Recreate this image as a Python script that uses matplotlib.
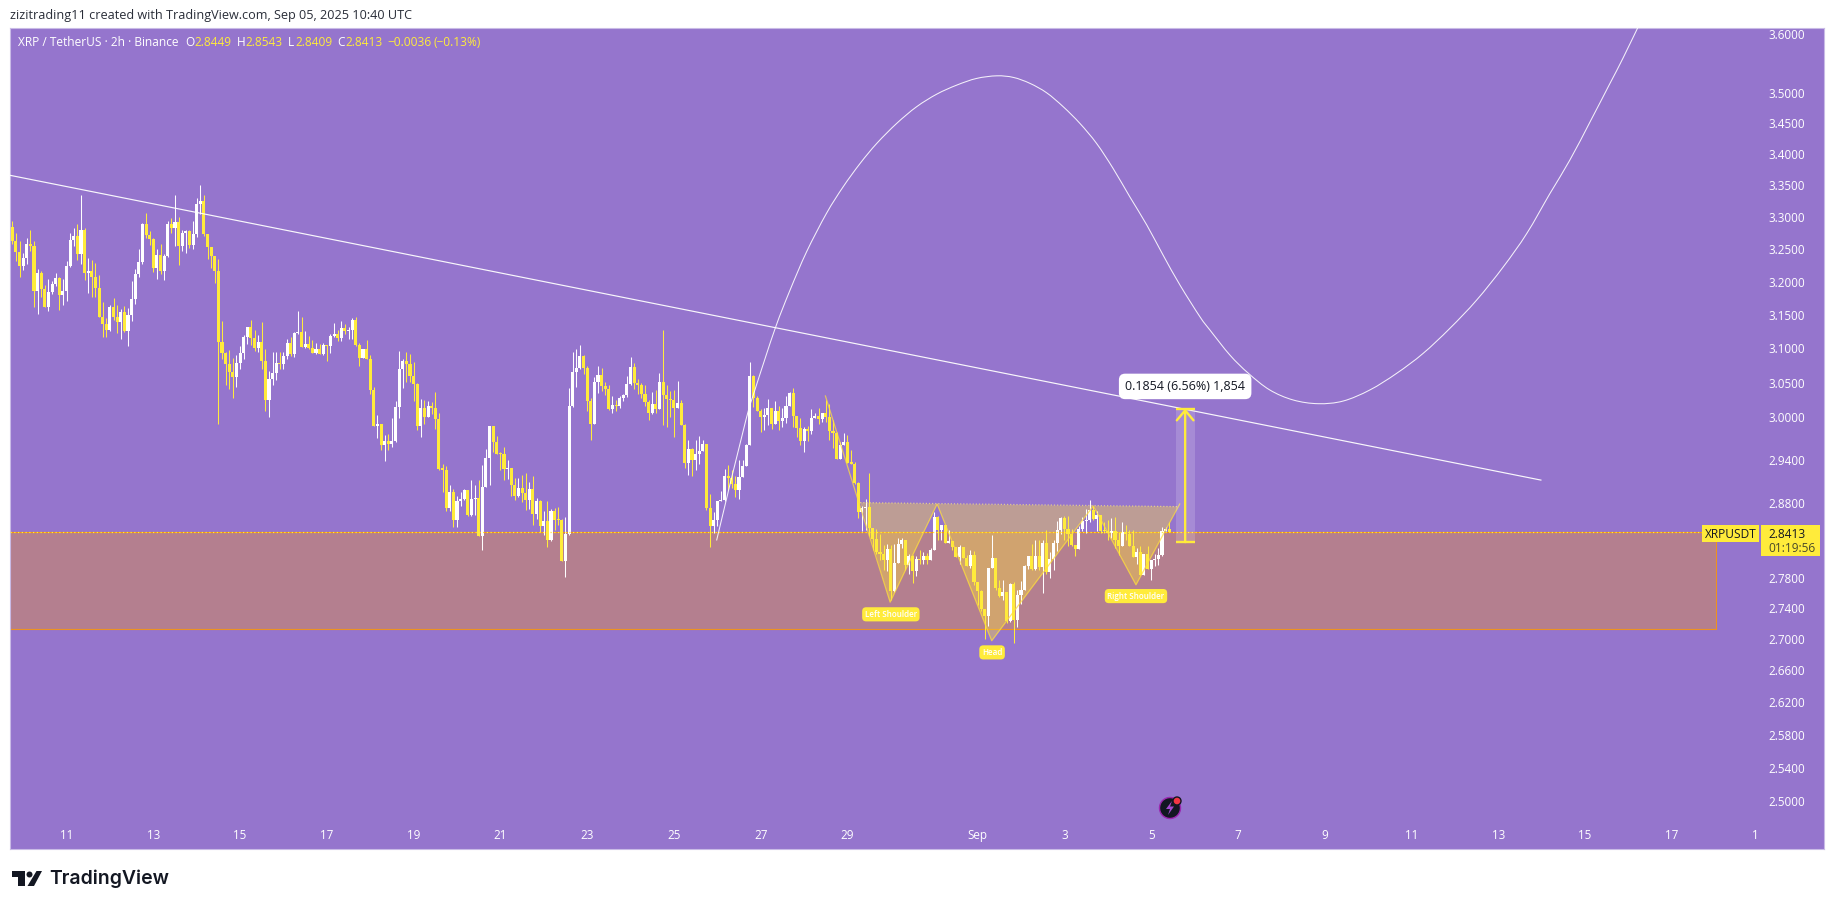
import matplotlib
matplotlib.use("Agg")
import matplotlib.pyplot as plt
import numpy as np
from matplotlib.patches import Rectangle, Polygon, Circle, PathPatch
from matplotlib.path import Path
from matplotlib.ticker import NullLocator, FixedLocator, FixedFormatter

first_open = 3.2842
closes = [3.2624,3.2454,3.2238,3.236,3.2578,3.2547,3.1855,3.2131,3.1885,3.1615,3.184,3.196,3.2054,3.1795,3.1855,3.2238,3.264,3.2702,3.2423,3.2795,
3.2131,3.2162,3.2069,3.1901,3.1465,3.136,3.127,3.1615,3.1465,3.139,3.154,3.1256,3.1495,3.1735,3.2115,3.2299,3.2889,3.2717,3.2655,3.2208,
3.2408,3.2162,3.2392,3.2889,3.2826,3.292,3.2547,3.2748,3.278,3.2562,3.2733,3.3202,3.325,3.2733,3.2531,3.2392,3.2162,3.1094,3.093,3.0772,
3.0656,3.0583,3.0787,3.093,3.1168,3.1316,3.115,3.1005,3.1094,3.0816,3.0245,3.0555,3.0641,3.0787,3.0772,3.0888,3.1079,3.0917,3.1226,3.124,
3.1019,3.1063,3.1005,3.093,3.099,3.0917,3.105,3.1035,3.1183,3.1212,3.115,3.13,3.1256,3.127,3.142,3.105,3.086,3.099,3.0845,3.0395,
2.9878,2.9907,2.961,2.9666,2.9624,2.9666,3.0148,3.0695,3.0816,3.0772,3.0598,3.0482,2.9878,3.0134,3.0006,3.0163,3.0134,2.9978,2.9274,2.9265,
2.8737,2.8956,2.8575,2.8832,2.8859,2.8984,2.8643,2.8859,2.8873,2.8359,2.9025,2.9428,2.9878,2.9652,2.9484,2.948,2.9274,2.9288,2.9053,2.89,
2.9011,2.8942,2.8845,2.8997,2.866,2.8832,2.8494,2.8562,2.8305,2.8697,2.8575,2.857,2.8022,2.8386,3.0163,3.0656,3.0714,3.0888,3.0714,3.0236,
2.9907,3.0511,3.0613,3.0453,3.041,3.012,3.0177,3.0163,3.0279,3.0323,3.0482,3.0729,3.0497,3.0468,3.0337,3.0221,3.0063,3.0192,3.012,3.0511,
3.0323,3.0265,3.025,3.0134,3.0207,2.9893,2.9358,2.9554,2.94,2.9484,2.9526,2.9624,2.8737,2.8485,2.8575,2.8832,2.884,2.9177,2.9149,2.9066,
2.8984,2.9163,2.9316,2.961,3.0598,3.0279,3.0091,3.0006,3.0034,3.0134,2.9907,3.0091,2.9949,2.9992,3.0163,3.0352,3.002,2.985,2.9666,2.9836,
2.9807,2.9992,3.002,2.9978,3.0063,3.0006,2.9807,2.978,2.9414,2.961,2.9652,2.9358,2.935,2.908,2.8683,2.8737,2.8751,2.8463,2.8319,2.8143,
2.8116,2.8035,2.8184,2.7627,2.7996,2.8251,2.8305,2.7974,2.8089,2.789,2.8049,2.8035,2.8089,2.8035,2.817,2.8616,2.844,2.8508,2.8265,2.8292,
2.8211,2.8075,2.8211,2.8062,2.796,2.8102,2.7745,2.7627,2.739,2.7298,2.793,2.8062,2.7666,2.7561,2.7614,2.7232,2.772,2.7245,2.7574,2.764,
2.796,2.8089,2.7916,2.8089,2.7947,2.8265,2.7877,2.8049,2.8265,2.844,2.8602,2.8454,2.8386,2.8238,2.8184,2.8454,2.8562,2.8575,2.871,2.8589,
2.8643,2.8427,2.842,2.84,2.8427,2.8305,2.8224,2.8413,2.8386,2.8224,2.8075,2.8143,2.7837,2.8116,2.7916,2.8035,2.8049,2.8102,2.8427,2.8449,2.8413]
highs = [3.2936,3.2743,3.2624,3.2433,3.2665,3.2795,3.2624,3.2192,3.2162,3.1957,3.2038,3.2008,3.2131,3.2069,3.2038,3.2315,3.2743,3.2821,3.2884,3.3344,
3.2826,3.2361,3.233,3.2284,3.21,3.169,3.145,3.1645,3.175,3.1645,3.1585,3.1635,3.16,3.2008,3.2192,3.25,3.2905,3.306,3.278,3.267,
3.25,3.2578,3.2423,3.2936,3.2983,3.3344,3.2998,3.2795,3.2795,3.2795,3.2936,3.3297,3.35,3.3344,3.2733,3.2531,3.2392,3.2345,3.1405,3.0946,
3.0975,3.086,3.0903,3.1035,3.12,3.1316,3.142,3.127,3.12,3.139,3.099,3.067,3.0946,3.0946,3.0946,3.0946,3.1138,3.1168,3.124,3.1555,
3.1465,3.1256,3.1183,3.1124,3.1079,3.1063,3.1079,3.105,3.1212,3.1375,3.127,3.1405,3.136,3.1316,3.145,3.1465,3.1079,3.099,3.1124,3.0903,
3.044,3.0035,2.9907,2.975,2.9764,2.9992,3.0235,3.096,3.0845,3.0946,3.0917,3.0801,3.0497,3.0265,3.025,3.0235,3.022,3.0366,3.0063,2.9344,
2.9316,2.9053,2.8997,2.89,2.8956,2.8997,2.8984,2.9122,2.9053,2.9122,2.933,2.9554,2.9878,2.9878,2.9736,2.9512,2.958,2.94,2.9288,2.915,
2.915,2.9191,2.9219,2.9094,2.9177,2.8873,2.8845,2.8697,2.8832,2.8724,2.8737,2.875,2.8589,2.8616,3.0424,3.0946,3.099,3.105,3.0903,3.0743,
3.0284,3.0583,3.0743,3.0714,3.0511,3.0468,3.0308,3.025,3.0308,3.0337,3.0598,3.0874,3.0787,3.0555,3.0497,3.0468,3.025,3.0366,3.0395,3.0641,
3.1272,3.0468,3.038,3.0395,3.0525,3.025,2.9907,2.968,2.9568,2.968,2.9737,2.968,2.9624,2.8928,2.8683,2.8832,2.897,2.9274,2.933,2.926,
2.9177,2.94,2.94,2.9624,3.0801,3.0613,3.0308,3.012,3.0134,3.0265,3.0134,3.0236,3.0163,3.0134,3.0308,3.0366,3.0425,3.002,2.9992,2.9864,
2.9878,3.012,3.0063,3.0134,3.0063,3.025,3.0192,2.9963,2.9793,2.9652,2.9779,2.975,2.954,2.9372,2.9094,2.8764,2.8859,2.9214,2.8467,2.8454,
2.8386,2.8238,2.8251,2.8238,2.8251,2.8332,2.8332,2.8305,2.8116,2.8102,2.8089,2.817,2.8143,2.813,2.8197,2.8683,2.8629,2.8508,2.8373,2.844,
2.8292,2.8211,2.8238,2.8211,2.8102,2.817,2.8157,2.7745,2.764,2.739,2.793,2.8373,2.8062,2.7772,2.7772,2.7614,2.7733,2.7745,2.764,2.7759,
2.7974,2.8089,2.8251,2.8305,2.8305,2.8305,2.844,2.8143,2.8305,2.8562,2.8616,2.8629,2.8629,2.8454,2.8238,2.8494,2.8616,2.8724,2.8845,2.8764,
2.8697,2.8643,2.8548,2.8575,2.8602,2.8616,2.8413,2.8548,2.8508,2.844,2.844,2.8197,2.8224,2.8116,2.8224,2.8035,2.8116,2.8197,2.8481,2.8481,2.8543]
lows = [3.2578,3.2315,3.2075,3.2177,3.2269,3.247,3.1615,3.151,3.1765,3.1615,3.1555,3.181,3.193,3.157,3.1645,3.1705,3.2223,3.2547,3.233,3.2269,
3.2023,3.1825,3.1765,3.1765,3.1465,3.1168,3.1168,3.1256,3.142,3.1226,3.114,3.124,3.1035,3.1405,3.166,3.207,3.227,3.267,3.2562,3.2146,
3.2038,3.2115,3.2023,3.2377,3.2748,3.2547,3.2253,3.247,3.244,3.2516,3.25,3.2686,3.3046,3.2702,3.2345,3.2208,3.1977,2.991,3.084,3.0468,
3.041,3.028,3.044,3.07,3.084,3.1063,3.105,3.096,3.0946,3.07,3.009,3.0006,3.0468,3.054,3.07,3.07,3.084,3.0888,3.0874,3.121,
3.1019,3.1005,3.099,3.093,3.0917,3.0917,3.0903,3.0816,3.093,3.1168,3.1109,3.1109,3.1212,3.114,3.114,3.1035,3.075,3.086,3.0845,3.0337,
2.9878,2.9708,2.954,2.9386,2.954,2.958,2.9652,2.9992,3.0424,3.051,3.051,3.0236,2.982,2.9722,2.9907,3.0006,3.0049,2.9836,2.926,2.8956,
2.8697,2.8697,2.8481,2.8481,2.8764,2.8845,2.863,2.863,2.8643,2.8359,2.817,2.9025,2.9053,2.9512,2.9484,2.926,2.9122,2.9136,2.89,2.8845,
2.8887,2.8818,2.871,2.8724,2.8508,2.8589,2.8413,2.8373,2.8211,2.8292,2.844,2.8508,2.8022,2.7811,2.8373,3.0148,3.0434,3.0695,3.0627,3.0091,
2.968,2.9907,3.0352,3.038,3.0323,3.0105,3.0063,3.0091,3.0134,3.0236,3.0294,3.0468,3.041,3.0337,3.0279,3.0163,2.9963,3.0048,3.0063,3.012,
2.9893,2.9864,3.0005,2.9722,3.0134,2.9893,2.9288,2.919,2.9177,2.926,2.9344,2.9526,2.871,2.8211,2.84,2.8485,2.8832,2.8832,2.8984,2.9011,
2.8887,2.886,2.9163,2.9316,2.961,3.0148,3.0091,2.9793,2.982,2.9893,2.9836,2.9907,2.982,2.9864,2.9921,3.0163,2.9864,2.9722,2.961,2.951,
2.9666,2.9765,2.9992,2.9907,2.9935,2.9935,2.968,2.9568,2.9414,2.9414,2.961,2.9358,2.935,2.9066,2.8602,2.8426,2.844,2.835,2.817,2.8116,
2.8035,2.7903,2.789,2.7508,2.7614,2.8089,2.8197,2.7903,2.785,2.7733,2.7824,2.7982,2.7982,2.7982,2.8035,2.817,2.8305,2.8305,2.8265,2.8265,
2.817,2.8075,2.7982,2.8062,2.796,2.7934,2.7706,2.7442,2.7364,2.7002,2.7167,2.793,2.764,2.7548,2.7508,2.7202,2.7219,2.695,2.7155,2.746,
2.764,2.7916,2.7903,2.7903,2.7903,2.7596,2.785,2.7798,2.7903,2.8157,2.8386,2.8305,2.8224,2.8224,2.8089,2.8184,2.8427,2.84,2.8548,2.8575,
2.8427,2.84,2.84,2.8305,2.8332,2.8197,2.8102,2.8224,2.8305,2.8224,2.8075,2.7982,2.7837,2.7837,2.7916,2.777,2.796,2.7974,2.8089,2.8427,2.8409]

trend_x = [-0.64, 422.8]
trend_y = [3.366, 2.912]
curve_x = [194.8,202.9,205.4,211,215.1,219.7,225.2,229.8,234.5,239.1,244.6,250.1,255.7,261.2,266.7,272.3,276.9,281.5,286.1,290.7,295.3,299.9,304.5,309.1,313.8,318.3,323,328.5,331.3,336.8,341.9,347.8,354.3,361.2,368.1,375.5,382.9,390.2,397.6,405,412.4,418.9,425.3,430.8,436.4,441.9,445.6,450.7]
curve_y = [2.8296,2.9963,3.0395,3.1297,3.187,3.2459,3.3057,3.3476,3.3851,3.4174,3.45,3.4774,3.4984,3.5134,3.5246,3.529,3.5263,3.5163,3.5006,3.4774,3.45,3.4174,3.3767,3.3317,3.2873,3.2407,3.1946,3.147,3.127,3.0902,3.0636,3.0395,3.025,3.0197,3.0235,3.0395,3.0636,3.0927,3.1297,3.172,3.2227,3.2743,3.337,3.3904,3.4527,3.5163,3.56,3.625]
pattern_x = [224.9,242.8,255.8,270.9,299,310.8,322.9]
pattern_y = [3.0308,2.7478,2.8791,2.6979,2.8764,2.7706,2.8791]
neck_x = [234.5,322.4]
neck_y = [2.881,2.8755]
zone_right = 471.2
zone_top = 2.8405
zone_bottom = 2.713
last_price = 2.8413
measure_left, measure_mid, measure_right = 321.9, 324.4, 327.1
measure_top, measure_bottom = 3.0128, 2.8274
x_ticks = [15,39,63,87,111,135,159,183,207,231,267,291,315,339,363,387,411,435,459,482]
x_labels = ["11","13","15","17","19","21","23","25","27","29","Sep","3","5","7","9","11","13","15","17","1"]
y_ticks = [3.6,3.5,3.45,3.4,3.35,3.3,3.25,3.2,3.15,3.1,3.05,3.0,2.94,2.88,2.78,2.74,2.70,2.66,2.62,2.58,2.54,2.50]

W, H = 1835, 909
BG = "#9575CD"
YEL = "#FFEB3B"
FONT = "Open Sans"
plt.rcParams["font.family"] = [FONT, "DejaVu Sans"]

fig = plt.figure(figsize=(W/100, H/100), dpi=100, facecolor="white")
L, R, T, B = 10, 1824, 27.5, 849
ax = fig.add_axes([L/W, 1-B/H, (R-L)/W, (B-T)/H], facecolor=BG)
ax.set_yscale("log")
ax.set_xlim(-0.636, 501.1)
ax.set_ylim(2.4436, 3.611)
for s in ax.spines.values():
    s.set_color("#C9BBE6"); s.set_linewidth(0.8)
ax.xaxis.set_major_locator(FixedLocator(x_ticks))
ax.xaxis.set_major_formatter(FixedFormatter(x_labels))
ax.xaxis.set_minor_locator(NullLocator())
ax.yaxis.set_major_locator(FixedLocator(y_ticks))
ax.yaxis.set_major_formatter(FixedFormatter([f"{v:.4f}" for v in y_ticks]))
ax.yaxis.set_minor_locator(NullLocator())
ax.tick_params(axis="x", length=0, pad=-14.6, labelsize=8.4, labelcolor="white")
ax.tick_params(axis="y", length=0, pad=-40.3, labelsize=8.4, labelcolor="white", left=False, labelleft=False, right=False, labelright=True)

# zone
ax.add_patch(Rectangle((-0.636, zone_bottom), zone_right+0.636, zone_top-zone_bottom, fc="#FF9800", alpha=0.3, lw=0, zorder=1))
ax.plot([-0.636, zone_right, zone_right, -0.636], [zone_top, zone_top, zone_bottom, zone_bottom], color="#FF9800", lw=0.8, alpha=0.85, zorder=1.5)

# pattern fill
px_, py_ = pattern_x, pattern_y
fills = [[(neck_x[0], neck_y[0]), (px_[1], py_[1]), (px_[2], py_[2])],
         [(px_[2], py_[2]), (px_[3], py_[3]), (px_[4], py_[4])],
         [(px_[4], py_[4]), (px_[5], py_[5]), (neck_x[1], neck_y[1])]]
for pts in fills:
    ax.add_patch(Polygon(pts, closed=True, fc="#FFDF3B", alpha=0.38, lw=0, zorder=2))

# candles
closes_a = np.array(closes); highs_a = np.array(highs); lows_a = np.array(lows)
opens_a = np.r_[first_open, closes_a[:-1]]
idx = np.arange(len(closes_a))
up = closes_a >= opens_a
cols = np.where(up, "#FFFFFF", YEL)
top = np.maximum(opens_a, closes_a); bot = np.minimum(opens_a, closes_a)
ax.vlines(idx, np.minimum(lows_a, bot), np.maximum(highs_a, top), colors=cols, lw=0.75, zorder=3, snap=True)
ax.bar(idx, np.maximum(top-bot, 0.0016), bottom=bot, width=0.85, color=cols, lw=0, zorder=3.1)

# price line
ax.plot([-0.636, 467.3], [last_price, last_price], color=YEL, lw=0.9, ls=(0, (1, 2)), zorder=3.2)

# pattern lines
ax.plot(px_, py_, color="#FFDF3B", lw=0.9, alpha=0.75, zorder=3.3)
ax.plot(neck_x, neck_y, color="#FFEB7A", lw=0.9, ls=(0, (1, 1.5)), alpha=0.7, zorder=3.3)

# trend and curve (curve is a smooth Bezier path through the read points)
ax.plot(trend_x, trend_y, color="white", lw=0.85, alpha=0.95, zorder=4)
cx, cy = np.array(curve_x), np.array(curve_y)
verts = [(cx[0], cy[0])]; codes = [Path.MOVETO]
n = len(cx)
for i in range(n-1):
    a, b = max(i-1, 0), min(i+2, n-1)
    verts += [(cx[i]+(cx[i+1]-cx[a])/6, cy[i]+(cy[i+1]-cy[a])/6),
              (cx[i+1]-(cx[b]-cx[i])/6, cy[i+1]-(cy[b]-cy[i])/6),
              (cx[i+1], cy[i+1])]
    codes += [Path.CURVE4]*3
ax.add_patch(PathPatch(Path(verts, codes), fc="none", ec="white", lw=0.75, alpha=0.9, zorder=4))

# measure
ax.add_patch(Rectangle((measure_left, measure_bottom), measure_right-measure_left, measure_top-measure_bottom, fc="white", alpha=0.16, lw=0, zorder=4))
ax.annotate("", xy=(measure_mid, measure_top), xytext=(measure_mid, measure_bottom),
            arrowprops=dict(arrowstyle="->,head_length=0.72,head_width=0.6", color=YEL, lw=1.7, shrinkA=0, shrinkB=0, mutation_scale=10), zorder=5)
for yy in (measure_top, measure_bottom):
    ax.plot([measure_left, measure_right], [yy, yy], color=YEL, lw=1.7, zorder=5, solid_capstyle="butt")

def lab(x, y, s, fs=5.8, color="white", fc=YEL, pad=0.32, z=6, w="semibold"):
    ax.text(x, y, s, ha="center", va="center", fontsize=fs, color=color, zorder=z, weight=w,
            bbox=dict(boxstyle=f"round,pad={pad},rounding_size=0.5", fc=fc, ec="none"))
lab(243, 2.732, "Left Shoulder")
lab(271, 2.683, "Head")
lab(310.8, 2.7558, "Right Shoulder")
lab(measure_mid, 3.0446, "0.1854 (6.56%) 1,854", fs=9, color="#131722", fc="white", pad=0.5, w="normal")

# figure-level helpers
def ftext(x, y, s, **k):
    k.setdefault("va", "center"); k.setdefault("fontsize", 8.6)
    return fig.text(x/W, 1-y/H, s, **k)
def frect(x0, y0, x1, y1, c):
    fig.add_artist(Rectangle((x0/W, 1-y1/H), (x1-x0)/W, (y1-y0)/H, transform=fig.transFigure, fc=c, ec="none", zorder=6))

ftext(10, 15, "zizitrading11 created with TradingView.com, Sep 05, 2025 10:40 UTC", color="#2A2E39", fontsize=9.1)
ftext(17.5, 42, "XRP / TetherUS · 2h · Binance", color="white")
for x, s, c in [(185,"O","white"),(194,"2.8449",YEL),(237,"H","white"),(245,"2.8543",YEL),(288,"L","white"),(295,"2.8409",YEL),
                (337,"C","white"),(345,"2.8413",YEL),(387,"−0.0036",YEL),(433,"(−0.13%)",YEL)]:
    ftext(x, 42, s, color=c)

# price tags
frect(1702, 525, 1759, 542, YEL)
frect(1760.5, 525, 1820, 556, YEL)
ftext(1730.5, 534, "XRPUSDT", color="#131722", ha="center", zorder=7)
ftext(1768, 534, "2.8413", color="#131722", zorder=7)
ftext(1768, 548, "01:19:56", color="#4A4A2A", zorder=7)

# logo
def fpoly(pts, c="#131722", z=6):
    fig.add_artist(Polygon([(x/W, 1-y/H) for x, y in pts], closed=True, transform=fig.transFigure, fc=c, ec="none", zorder=z))
fpoly([(11.5,871),(25,871),(25,886),(18,886),(18,877),(11.5,877)])
fpoly([(36.5,871),(42,871),(34,886),(27.5,886)])
ax_c = fig.add_axes([0, 0, 1, 1], facecolor="none", zorder=8)
ax_c.set_xlim(0, W); ax_c.set_ylim(H, 0); ax_c.axis("off")
ax_c.add_patch(Circle((29.5, 874.5), 3, fc="#131722", ec="none"))
ftext(49, 878.5, "TradingView", color="#131722", fontsize=14.0, family="Inter", weight="semibold")

# lightning icon
ax_c.add_patch(Circle((1170, 808), 10.5, fc="#131722", ec="#9C27B0", lw=1))
ax_c.add_patch(Polygon([(1172,801),(1166,809),(1170,809),(1168,815),(1174,806.5),(1170,806.5)], closed=True, fc="#A24BD0", ec="none"))
ax_c.add_patch(Circle((1177, 801), 4, fc="#F23645", ec="#131722", lw=1))

fig.savefig("out.png", dpi=100)
